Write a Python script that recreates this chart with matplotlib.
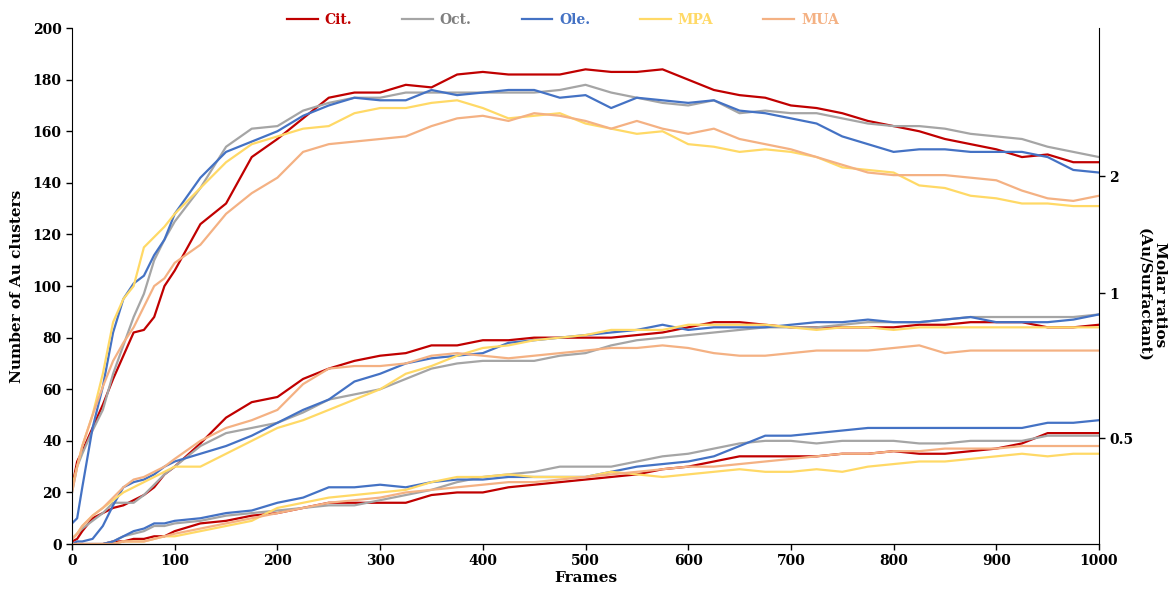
import matplotlib
matplotlib.use("Agg")
import matplotlib.pyplot as plt
from matplotlib.lines import Line2D

plt.rcParams['font.family'] = ['DejaVu Serif']
plt.rcParams['font.weight'] = 'bold'

frames = [0, 5, 10, 20, 30, 40, 50, 60, 70, 80, 90, 100, 125, 150, 175, 200, 225, 250, 275, 300,
          325, 350, 375, 400, 425, 450, 475, 500, 525, 550, 575, 600, 625, 650, 675, 700, 725, 750,
          775, 800, 825, 850, 875, 900, 925, 950, 975, 1000]

surfactants = ['Cit.', 'Oct.', 'Ole.', 'MPA', 'MUA']
colors = ['#C00000', '#A5A5A5', '#4472C4', '#FFD966', '#F4B183']
label_colors = ['#C00000', '#7F7F7F', '#4472C4', '#FFD966', '#F4B183']

# molar ratio 2
cit_2 = [22, 32, 36, 45, 54, 64, 73, 82, 83, 88, 100, 106, 124, 132, 150, 157, 165, 173, 175, 175,
         178, 177, 182, 183, 182, 182, 182, 184, 183, 183, 184, 180, 176, 174, 173, 170, 169, 167,
         164, 162, 160, 157, 155, 153, 150, 151, 148, 148]
oct_2 = [20, 30, 35, 44, 52, 66, 77, 88, 97, 110, 118, 125, 138, 154, 161, 162, 168, 171, 173, 173,
         175, 175, 175, 175, 175, 175, 176, 178, 175, 173, 171, 170, 172, 167, 168, 167, 167, 165,
         163, 162, 162, 161, 159, 158, 157, 154, 152, 150]
ole_2 = [8, 10, 22, 45, 61, 82, 95, 101, 104, 112, 118, 128, 142, 152, 156, 160, 166, 170, 173, 172,
         172, 176, 174, 175, 176, 176, 173, 174, 169, 173, 172, 171, 172, 168, 167, 165, 163, 158,
         155, 152, 153, 153, 152, 152, 152, 150, 145, 144]
mpa_2 = [22, 30, 38, 50, 66, 86, 95, 100, 115, 119, 123, 128, 138, 148, 155, 158, 161, 162, 167, 169,
         169, 171, 172, 169, 165, 166, 167, 163, 161, 159, 160, 155, 154, 152, 153, 152, 150, 146,
         145, 144, 139, 138, 135, 134, 132, 132, 131, 131]
mua_2 = [20, 30, 38, 50, 61, 71, 78, 84, 92, 100, 103, 109, 116, 128, 136, 142, 152, 155, 156, 157,
         158, 162, 165, 166, 164, 167, 166, 164, 161, 164, 161, 159, 161, 157, 155, 153, 150, 147,
         144, 143, 143, 143, 142, 141, 137, 134, 133, 135]

# molar ratio 1
cit_1 = [1, 2, 5, 10, 12, 14, 15, 17, 19, 22, 27, 30, 39, 49, 55, 57, 64, 68, 71, 73,
         74, 77, 77, 79, 79, 80, 80, 80, 80, 81, 82, 84, 86, 86, 85, 84, 84, 84,
         84, 84, 85, 85, 86, 86, 86, 84, 84, 85]
oct_1 = [2, 4, 6, 9, 12, 16, 16, 16, 19, 23, 27, 30, 38, 43, 45, 47, 51, 56, 58, 60,
         64, 68, 70, 71, 71, 71, 73, 74, 77, 79, 80, 81, 82, 83, 84, 84, 84, 85,
         86, 86, 86, 87, 88, 88, 88, 88, 88, 89]
ole_1 = [0, 1, 1, 2, 7, 15, 22, 24, 25, 27, 30, 32, 35, 38, 42, 47, 52, 56, 63, 66,
         70, 72, 73, 74, 78, 79, 80, 81, 82, 83, 85, 83, 84, 84, 84, 85, 86, 86,
         87, 86, 86, 87, 88, 86, 86, 86, 87, 89]
mpa_1 = [2, 4, 7, 11, 14, 17, 20, 22, 24, 26, 28, 30, 30, 35, 40, 45, 48, 52, 56, 60,
         66, 69, 73, 76, 77, 79, 80, 81, 83, 83, 83, 85, 85, 85, 85, 84, 83, 84,
         84, 83, 84, 84, 84, 84, 84, 84, 84, 84]
mua_1 = [2, 4, 7, 11, 14, 18, 22, 25, 26, 28, 30, 33, 40, 45, 48, 52, 62, 68, 69, 69,
         70, 73, 74, 73, 72, 73, 74, 75, 76, 76, 77, 76, 74, 73, 73, 74, 75, 75,
         75, 76, 77, 74, 75, 75, 75, 75, 75, 75]

# molar ratio 0.5
cit_05 = [0, 0, 0, 0, 0, 1, 1, 2, 2, 3, 3, 5, 8, 9, 11, 12, 14, 16, 16, 16,
          16, 19, 20, 20, 22, 23, 24, 25, 26, 27, 29, 30, 32, 34, 34, 34, 34, 35,
          35, 36, 35, 35, 36, 37, 39, 43, 43, 43]
oct_05 = [0, 0, 0, 0, 0, 1, 3, 4, 5, 7, 7, 8, 9, 11, 12, 13, 14, 15, 15, 17,
          19, 21, 24, 26, 27, 28, 30, 30, 30, 32, 34, 35, 37, 39, 40, 40, 39, 40,
          40, 40, 39, 39, 40, 40, 40, 42, 42, 42]
ole_05 = [0, 0, 0, 0, 0, 1, 3, 5, 6, 8, 8, 9, 10, 12, 13, 16, 18, 22, 22, 23,
          22, 24, 25, 25, 26, 26, 26, 26, 28, 30, 31, 32, 34, 38, 42, 42, 43, 44,
          45, 45, 45, 45, 45, 45, 45, 47, 47, 48]
mpa_05 = [0, 0, 0, 0, 0, 0, 1, 1, 1, 2, 3, 3, 5, 7, 9, 14, 16, 18, 19, 20,
          21, 24, 26, 26, 27, 26, 26, 26, 28, 27, 26, 27, 28, 29, 28, 28, 29, 28,
          30, 31, 32, 32, 33, 34, 35, 34, 35, 35]
mua_05 = [0, 0, 0, 0, 0, 0, 1, 1, 1, 2, 3, 4, 6, 8, 10, 12, 14, 16, 17, 18,
          20, 21, 22, 23, 24, 24, 25, 26, 27, 28, 29, 30, 30, 31, 32, 33, 34, 35,
          35, 36, 36, 37, 37, 37, 38, 38, 38, 38]

groups = [
    [cit_2, oct_2, ole_2, mpa_2, mua_2],
    [cit_1, oct_1, ole_1, mpa_1, mua_1],
    [cit_05, oct_05, ole_05, mpa_05, mua_05],
]

# where the molar ratio labels sit on the right axis (in cluster units)
ratio_pos = [142.6, 97.3, 41.1]
ratio_labels = ['2', '1', '0.5']

fig = plt.figure(figsize=(11.73, 5.92), dpi=100)
ax = fig.add_axes([0.0614, 0.081, 0.8755, 0.8716])

for group in groups:
    for values, c in zip(group, colors):
        ax.plot(frames, values, color=c, lw=1.6)

ax.set_xlim(0, 1000)
ax.set_ylim(0, 200)
ax.set_xticks(range(0, 1001, 100))
ax.set_yticks(range(0, 201, 20))
ax.tick_params(labelsize=10, length=4, width=1, direction='out')
ax.spines['top'].set_visible(False)
ax.spines['right'].set_visible(False)
ax.set_xlabel('Frames', fontsize=11, fontweight='bold', labelpad=2)
ax.set_ylabel('Number of Au clusters', fontsize=11, fontweight='bold', labelpad=6)

ax2 = ax.twinx()
ax2.set_ylim(0, 200)
ax2.set_yticks(ratio_pos)
ax2.set_yticklabels(ratio_labels, fontsize=10)
ax2.tick_params(length=4, width=1, direction='out')
ax2.spines['top'].set_visible(False)
ax2.spines['left'].set_visible(False)
ax2.set_ylabel('Molar ratios\n(Au/Surfactant)', fontsize=11, fontweight='bold',
               rotation=270, va='center', ha='center', multialignment='center')
ax2.yaxis.set_label_coords(1.052, 0.483)

handles = [Line2D([], [], color=c, lw=1.6) for c in colors]
leg = fig.legend(handles, surfactants, loc='center', bbox_to_anchor=(0.48, 0.966), ncol=5,
                 frameon=False, fontsize=10, handlelength=2.2, columnspacing=3.6,
                 handletextpad=0.5)
for t, c in zip(leg.get_texts(), label_colors):
    t.set_color(c)

fig.savefig('out.png', dpi=100)
